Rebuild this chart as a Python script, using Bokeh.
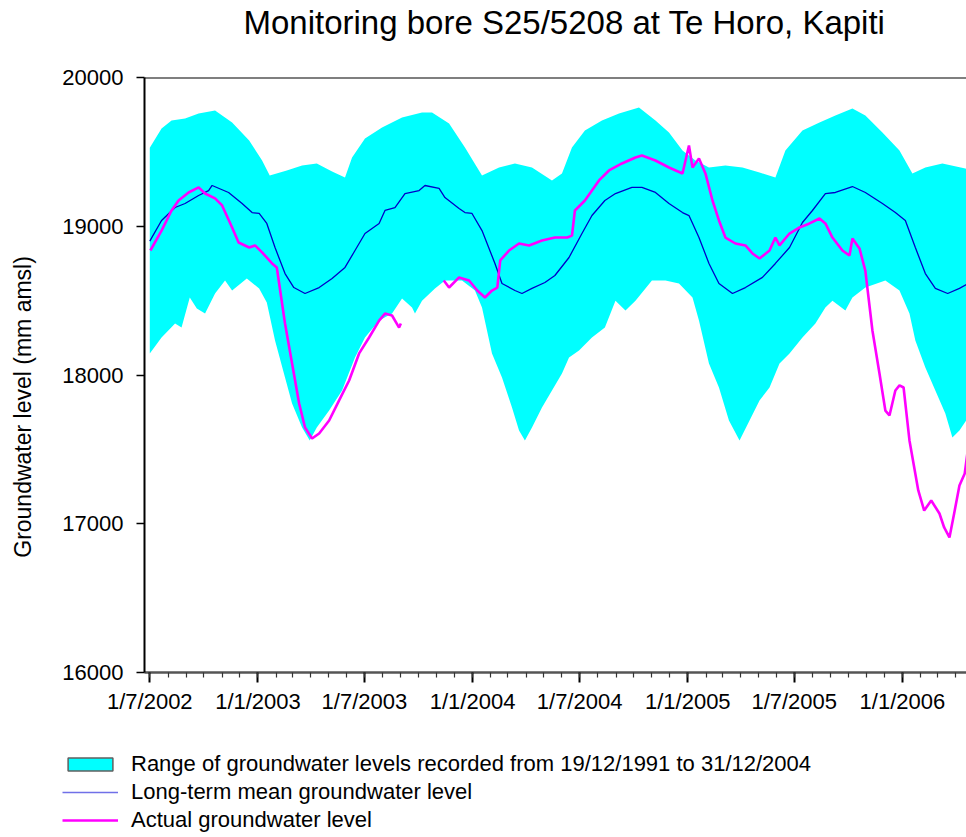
import pandas as pd
from bokeh.plotting import figure
from bokeh.layouts import column
from bokeh.models import Range1d, FixedTicker, Legend, LegendItem, Span
from bokeh.embed import file_html
from bokeh.resources import INLINE

# ---------------- data ----------------
title_text = "Monitoring bore S25/5208 at Te Horo, Kapiti"
y_label = "Groundwater level (mm amsl)"
legend_labels = ["Range of groundwater levels recorded from 19/12/1991 to 31/12/2004",
                 "Long-term mean groundwater level",
                 "Actual groundwater level"]

x_tick_labels = ["1/7/2002", "1/1/2003", "1/7/2003", "1/1/2004",
                 "1/7/2004", "1/1/2005", "1/7/2005", "1/1/2006"]
y_ticks = [16000, 17000, 18000, 19000, 20000]

range_upper_dates = ["2002-07-01", "2002-07-21", "2002-08-07", "2002-08-30", "2002-09-22", "2002-10-20",
                     "2002-11-18", "2002-12-17", "2003-01-08", "2003-01-21", "2003-02-19", "2003-03-17",
                     "2003-04-11", "2003-05-07", "2003-05-29", "2003-06-10", "2003-07-02", "2003-07-31",
                     "2003-09-03", "2003-10-07", "2003-10-24", "2003-11-22", "2003-12-19", "2004-01-17",
                     "2004-02-15", "2004-03-13", "2004-04-11", "2004-05-15", "2004-06-01", "2004-06-18",
                     "2004-07-10", "2004-08-08", "2004-09-06", "2004-10-10", "2004-11-07", "2004-11-30",
                     "2004-12-23", "2005-01-14", "2005-02-06", "2005-03-06", "2005-04-04", "2005-05-03",
                     "2005-05-30", "2005-06-16", "2005-07-15", "2005-08-13", "2005-09-09", "2005-10-08",
                     "2005-10-30", "2005-11-28", "2005-12-27", "2006-01-18", "2006-02-09", "2006-03-10",
                     "2006-04-18", "2006-04-23"]
range_upper = [19527, 19657, 19711, 19724, 19758, 19778,
               19697, 19576, 19442, 19341, 19375, 19408,
               19422, 19368, 19328, 19462, 19590, 19664,
               19731, 19765, 19765, 19691, 19530, 19341,
               19395, 19422, 19395, 19308, 19355, 19530,
               19644, 19711, 19758, 19798, 19711, 19630,
               19509, 19442, 19395, 19408, 19395, 19361,
               19328, 19509, 19644, 19697, 19745, 19791,
               19745, 19630, 19509, 19355, 19395, 19422,
               19388, 19380]

range_lower_dates = ["2002-07-01", "2002-07-21", "2002-08-13", "2002-08-24", "2002-09-07", "2002-09-19",
                     "2002-10-03", "2002-10-20", "2002-11-06", "2002-11-18", "2002-12-13", "2003-01-03",
                     "2003-01-16", "2003-01-30", "2003-02-16", "2003-02-28", "2003-03-17", "2003-03-30",
                     "2003-04-11", "2003-05-02", "2003-05-24", "2003-06-15", "2003-07-02", "2003-07-26",
                     "2003-08-17", "2003-09-03", "2003-09-20", "2003-09-25", "2003-10-07", "2003-10-29",
                     "2003-11-15", "2003-12-14", "2004-01-05", "2004-01-17", "2004-02-03", "2004-02-20",
                     "2004-03-08", "2004-03-20", "2004-03-30", "2004-04-11", "2004-04-28", "2004-05-15",
                     "2004-06-01", "2004-06-13", "2004-06-30", "2004-07-22", "2004-08-13", "2004-08-31",
                     "2004-09-17", "2004-10-04", "2004-11-01", "2004-11-24", "2004-12-17", "2005-01-09",
                     "2005-01-20", "2005-02-06", "2005-02-23", "2005-03-12", "2005-03-30", "2005-04-16",
                     "2005-05-03", "2005-05-20", "2005-06-06", "2005-06-23", "2005-07-15", "2005-08-06",
                     "2005-08-23", "2005-09-04", "2005-09-26", "2005-10-08", "2005-10-30", "2005-12-03",
                     "2005-12-27", "2006-01-13", "2006-01-23", "2006-02-09", "2006-02-26", "2006-03-15",
                     "2006-03-27", "2006-04-08", "2006-04-23"]
range_lower = [18145, 18252, 18346, 18319, 18521, 18447,
               18413, 18548, 18635, 18568, 18649, 18582,
               18487, 18232, 17983, 17808, 17647, 17560,
               17647, 17761, 17896, 18118, 18252, 18366,
               18413, 18514, 18454, 18413, 18500, 18582,
               18635, 18635, 18568, 18454, 18145, 17983,
               17782, 17627, 17560, 17647, 17782, 17896,
               18010, 18118, 18165, 18252, 18319, 18500,
               18434, 18500, 18635, 18635, 18615, 18521,
               18366, 18077, 17916, 17694, 17560, 17694,
               17829, 17916, 18077, 18145, 18252, 18346,
               18454, 18500, 18434, 18521, 18588, 18635,
               18568, 18413, 18232, 18050, 17896, 17741,
               17580, 17627, 17714]

mean_dates = ["2002-07-01", "2002-07-21", "2002-08-13", "2002-08-30", "2002-09-22", "2002-10-09",
              "2002-10-15", "2002-11-12", "2002-12-05", "2002-12-22", "2003-01-03", "2003-01-16",
              "2003-01-30", "2003-02-16", "2003-03-03", "2003-03-22", "2003-04-15", "2003-05-07",
              "2003-05-29", "2003-06-15", "2003-07-02", "2003-07-26", "2003-08-05", "2003-08-22",
              "2003-09-08", "2003-10-02", "2003-10-12", "2003-11-05", "2003-11-15", "2003-12-09",
              "2003-12-19", "2003-12-31", "2004-01-17", "2004-02-08", "2004-02-20", "2004-03-13",
              "2004-03-25", "2004-04-11", "2004-05-03", "2004-05-20", "2004-06-13", "2004-07-05",
              "2004-07-22", "2004-08-13", "2004-08-31", "2004-09-28", "2004-10-15", "2004-11-07",
              "2004-11-30", "2004-12-23", "2005-01-03", "2005-01-20", "2005-02-06", "2005-02-23",
              "2005-03-18", "2005-04-09", "2005-05-08", "2005-05-30", "2005-06-23", "2005-07-15",
              "2005-08-01", "2005-08-23", "2005-09-09", "2005-10-08", "2005-10-30", "2005-11-28",
              "2005-12-20", "2006-01-06", "2006-01-23", "2006-02-09", "2006-02-26", "2006-03-19",
              "2006-04-08", "2006-04-23"]
mean_level = [18900, 19039, 19126, 19153, 19207, 19240,
              19274, 19227, 19153, 19092, 19086, 19019,
              18857, 18682, 18588, 18548, 18588, 18649,
              18723, 18837, 18951, 19019, 19106, 19126,
              19220, 19240, 19274, 19254, 19193, 19119,
              19092, 19086, 18971, 18750, 18615, 18568,
              18548, 18582, 18622, 18669, 18790, 18951,
              19072, 19173, 19220, 19261, 19261, 19227,
              19153, 19092, 19072, 18924, 18750, 18615,
              18548, 18588, 18656, 18750, 18857, 19025,
              19106, 19220, 19227, 19267, 19227, 19153,
              19092, 19039, 18857, 18682, 18582, 18548,
              18582, 18615]

actual1_dates = ["2002-07-02", "2002-07-21", "2002-08-07", "2002-08-19", "2002-09-05", "2002-09-22",
                 "2002-10-03", "2002-10-20", "2002-11-01", "2002-11-18", "2002-11-29", "2002-12-17",
                 "2002-12-27", "2003-01-08", "2003-01-25", "2003-02-02", "2003-02-16", "2003-02-28",
                 "2003-03-12", "2003-03-22", "2003-04-03", "2003-04-15", "2003-05-02", "2003-05-19",
                 "2003-06-05", "2003-06-22", "2003-07-09", "2003-07-26", "2003-08-05", "2003-08-17",
                 "2003-08-29", "2003-09-01"]
actual1_level = [18837, 18971, 19106, 19173, 19227, 19261,
                 19220, 19187, 19140, 18992, 18891, 18857,
                 18871, 18824, 18750, 18723, 18346, 18077,
                 17808, 17647, 17573, 17607, 17694, 17829,
                 17963, 18145, 18252, 18366, 18413, 18400,
                 18319, 18346]

actual2_dates = ["2003-11-13", "2003-11-22", "2003-12-09", "2003-12-26", "2004-01-09", "2004-01-22",
                 "2004-02-03", "2004-02-12", "2004-02-17", "2004-03-03", "2004-03-20", "2004-04-06",
                 "2004-04-28", "2004-05-20", "2004-06-10", "2004-06-18", "2004-06-23", "2004-07-10",
                 "2004-08-03", "2004-08-20", "2004-09-11", "2004-10-04", "2004-10-15", "2004-11-07",
                 "2004-11-30", "2004-12-23", "2005-01-03", "2005-01-09", "2005-01-20", "2005-01-31",
                 "2005-02-12", "2005-02-23", "2005-03-06", "2005-03-23", "2005-04-09", "2005-04-21",
                 "2005-05-03", "2005-05-20", "2005-05-30", "2005-06-06", "2005-06-23", "2005-07-10",
                 "2005-07-27", "2005-08-13", "2005-08-23", "2005-09-04", "2005-09-21", "2005-10-03",
                 "2005-10-08", "2005-10-20", "2005-10-30", "2005-11-11", "2005-11-23", "2005-12-03",
                 "2005-12-10", "2005-12-20", "2005-12-27", "2006-01-03", "2006-01-13", "2006-01-28",
                 "2006-02-07", "2006-02-19", "2006-03-05", "2006-03-13", "2006-03-22", "2006-03-30",
                 "2006-04-08", "2006-04-17", "2006-04-23"]
actual2_level = [18635, 18588, 18656, 18635, 18568, 18521,
                 18568, 18588, 18770, 18837, 18884, 18871,
                 18904, 18924, 18924, 18937, 19106, 19173,
                 19308, 19375, 19422, 19462, 19476, 19442,
                 19395, 19355, 19543, 19395, 19455, 19355,
                 19173, 19039, 18924, 18884, 18871, 18817,
                 18783, 18837, 18924, 18871, 18951, 18992,
                 19019, 19052, 19019, 18924, 18837, 18803,
                 18918, 18851, 18700, 18299, 18010, 17761,
                 17728, 17896, 17930, 17916, 17560, 17224,
                 17089, 17156, 17069, 16975, 16908, 17069,
                 17257, 17338, 17520]

# ---------------- build ----------------
FONT = "Liberation Sans"
BAND = "#00FFFF"
MEAN = "#0000C8"
ACT = "#FF00FF"
to_dt = lambda lst: pd.to_datetime(lst)

tick_dt = pd.to_datetime(x_tick_labels, format="%d/%m/%Y")
tick_ms = [int(t.value // 10**6) for t in tick_dt]
minor_ms = [int(t.value // 10**6) for t in pd.date_range("2002-07-01", "2006-04-01", freq="MS")]

band_x = list(to_dt(range_upper_dates)) + list(to_dt(range_lower_dates))[::-1]
band_y = list(range_upper) + list(range_lower)[::-1]


def bare(fig):
    fig.outline_line_color = None
    fig.grid.grid_line_color = None
    fig.background_fill_color = "white"
    fig.border_fill_color = "white"
    if "frame_align" in fig.properties():
        fig.frame_align = False


# ---- title strip ----
tf = figure(width=966, height=50, x_range=Range1d(0, 1), y_range=Range1d(0, 1),
            output_backend="svg", toolbar_location=None,
            x_axis_location=None, y_axis_location=None, min_border=0, title=title_text)
bare(tf)
tf.title.text_font = FONT
tf.title.text_font_size = "33px"
tf.title.text_font_style = "normal"
tf.title.text_color = "black"
tf.title.align = "left"
tf.title.offset = 243
tf.title.vertical_align = "top"
tf.title.standoff = 6

# ---- main chart ----
p = figure(width=966, height=670, x_axis_type="datetime",
           x_range=Range1d(pd.Timestamp("2002-06-22"), pd.Timestamp("2006-04-20")),
           y_range=Range1d(16000, 20000),
           output_backend="svg", toolbar_location=None,
           min_border_left=144, min_border_right=0, min_border_top=27, min_border_bottom=48)
bare(p)

p.patch(band_x, band_y, fill_color=BAND, line_color=None)
p.line(to_dt(mean_dates), mean_level, line_color=MEAN, line_width=1.3)
p.line(to_dt(actual1_dates), actual1_level, line_color=ACT, line_width=2.6)
p.line(to_dt(actual2_dates), actual2_level, line_color=ACT, line_width=2.6)

p.add_layout(Span(location=20000, dimension="width", line_color="black", line_width=2))

xa = p.xaxis[0]
xa.ticker = FixedTicker(ticks=tick_ms, minor_ticks=minor_ms)
xa.major_label_overrides = {t: lab for t, lab in zip(tick_ms, x_tick_labels)}
xa.major_tick_out = 10
xa.major_tick_in = 0
xa.minor_tick_out = 5
xa.minor_tick_in = 0
xa.axis_line_width = 2.5
xa.axis_line_color = "#555555"
xa.major_tick_line_width = 2
xa.minor_tick_line_width = 1.2
xa.major_tick_line_color = "black"
xa.minor_tick_line_color = "#333333"
xa.major_label_text_font = FONT
xa.major_label_text_font_size = "22px"
xa.major_label_text_color = "black"
xa.major_label_standoff = 6

ya = p.yaxis[0]
ya.ticker = FixedTicker(ticks=y_ticks, minor_ticks=[])
ya.major_tick_out = 8
ya.major_tick_in = 0
ya.axis_line_width = 2
ya.axis_line_color = "black"
ya.major_tick_line_width = 1.5
ya.major_label_text_font = FONT
ya.major_label_text_font_size = "22px"
ya.major_label_text_color = "black"
ya.major_label_standoff = 13
# trailing no-break spaces only push the visible label a little lower, as in the original
ya.axis_label = y_label + "\u00a0" * 10
ya.axis_label_text_font = FONT
ya.axis_label_text_font_size = "23px"
ya.axis_label_text_font_style = "normal"
ya.axis_label_text_color = "black"
ya.axis_label_standoff = 23

# ---- legend strip: same series drawn far outside its (0..1) ranges, only swatches show ----
lf = figure(width=966, height=117, x_range=Range1d(0, 1), y_range=Range1d(0, 1),
            output_backend="svg", toolbar_location=None,
            x_axis_location=None, y_axis_location=None, min_border=0)
bare(lf)
sw_band = lf.patch(band_x, band_y, fill_color=BAND, line_color="#606060", line_width=1.5)
sw_mean = lf.line(to_dt(mean_dates), mean_level, line_color="#7070E8", line_width=1.5)
sw_act = lf.line(to_dt(actual1_dates), actual1_level, line_color=ACT, line_width=2.6)
legend = Legend(items=[LegendItem(label=legend_labels[0], renderers=[sw_band]),
                       LegendItem(label=legend_labels[1], renderers=[sw_mean]),
                       LegendItem(label=legend_labels[2], renderers=[sw_act])],
                location=(62, 4))
legend.glyph_width = 56
legend.glyph_height = 16
legend.label_height = 25
legend.label_standoff = 13
legend.label_text_font = FONT
legend.label_text_font_size = "22px"
legend.label_text_color = "black"
legend.spacing = 2
legend.padding = 0
legend.margin = 0
legend.border_line_color = None
legend.background_fill_alpha = 0
lf.add_layout(legend)

open("out.html", "w").write(file_html(column(tf, p, lf, spacing=0), INLINE))
